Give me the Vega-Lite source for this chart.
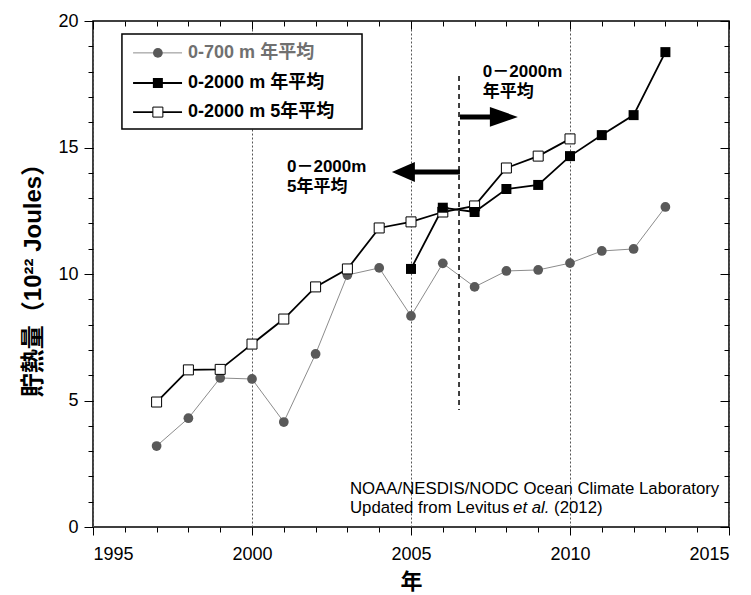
{
  "$schema": "https://vega.github.io/schema/vega-lite/v6.json",
  "width": 636,
  "height": 506,
  "autosize": "none",
  "padding": {"left": 93, "top": 21, "right": 22, "bottom": 68},
  "background": "white",
  "config": {
    "view": {"stroke": "black", "strokeWidth": 1.5},
    "font": "Liberation Sans",
    "axis": {"domain": false, "labelFont": "Liberation Sans", "labelFontSize": 18, "labelColor": "black", "tickColor": "black", "tickWidth": 1, "grid": false}
  },
  "datasets": {
    "one": [{}],
    "s700": [
      {"year": 1997, "v": 3.2}, {"year": 1998, "v": 4.3}, {"year": 1999, "v": 5.89}, {"year": 2000, "v": 5.85},
      {"year": 2001, "v": 4.15}, {"year": 2002, "v": 6.84}, {"year": 2003, "v": 9.96}, {"year": 2004, "v": 10.24},
      {"year": 2005, "v": 8.34}, {"year": 2006, "v": 10.42}, {"year": 2007, "v": 9.49}, {"year": 2008, "v": 10.12},
      {"year": 2009, "v": 10.16}, {"year": 2010, "v": 10.43}, {"year": 2011, "v": 10.91}, {"year": 2012, "v": 10.99},
      {"year": 2013, "v": 12.65}
    ],
    "a2000": [
      {"year": 2005, "v": 10.2}, {"year": 2006, "v": 12.62}, {"year": 2007, "v": 12.45}, {"year": 2008, "v": 13.36},
      {"year": 2009, "v": 13.52}, {"year": 2010, "v": 14.66}, {"year": 2011, "v": 15.49}, {"year": 2012, "v": 16.28},
      {"year": 2013, "v": 18.77}
    ],
    "f2000": [
      {"year": 1997, "v": 4.94}, {"year": 1998, "v": 6.21}, {"year": 1999, "v": 6.23}, {"year": 2000, "v": 7.23},
      {"year": 2001, "v": 8.22}, {"year": 2002, "v": 9.49}, {"year": 2003, "v": 10.2}, {"year": 2004, "v": 11.82},
      {"year": 2005, "v": 12.06}, {"year": 2006, "v": 12.45}, {"year": 2007, "v": 12.69}, {"year": 2008, "v": 14.19},
      {"year": 2009, "v": 14.66}, {"year": 2010, "v": 15.34}
    ]
  },
  "resolve": {"scale": {"x": "shared", "y": "shared"}, "axis": {"x": "independent", "y": "independent"}},
  "layer": [
    {
      "data": {"name": "s700"},
      "mark": {"type": "line", "stroke": "#8c8c8c", "strokeWidth": 1},
      "encoding": {
        "x": {"field": "year", "type": "quantitative", "scale": {"domain": [1995, 2015], "nice": false, "zero": false},
          "axis": {"orient": "bottom", "values": [1995, 2000, 2005, 2010, 2015], "format": "d", "tickSize": 8, "labelPadding": 10,
            "grid": true, "gridColor": "#555555", "gridDash": [2, 2], "gridWidth": 1,
            "title": "年", "titleFont": "Noto Sans CJK JP", "titleFontSize": 22, "titleFontWeight": "bold", "titleColor": "black", "titlePadding": 8}},
        "y": {"field": "v", "type": "quantitative", "scale": {"domain": [0, 20], "nice": false, "zero": false},
          "axis": {"orient": "left", "values": [0, 5, 10, 15, 20], "tickSize": 9, "labelPadding": 6,
            "title": "貯熱量（10²² Joules）", "titleFont": "Liberation Sans, Noto Sans CJK JP", "titleFontSize": 24, "titleFontWeight": "bold", "titleColor": "black", "titlePadding": 12}}
      }
    },
    {
      "data": {"name": "s700"},
      "mark": {"type": "point", "shape": "circle", "filled": true, "fill": "#595959", "stroke": null, "size": 95, "opacity": 1},
      "encoding": {
        "x": {"field": "year", "type": "quantitative", "scale": {"domain": [1995, 2015], "nice": false, "zero": false},
          "axis": {"orient": "bottom", "values": [1995,1996,1997,1998,1999,2000,2001,2002,2003,2004,2005,2006,2007,2008,2009,2010,2011,2012,2013,2014,2015], "tickSize": 5, "labels": false, "title": null}},
        "y": {"field": "v", "type": "quantitative", "scale": {"domain": [0, 20], "nice": false, "zero": false},
          "axis": {"orient": "left", "values": [0,1,2,3,4,5,6,7,8,9,10,11,12,13,14,15,16,17,18,19,20], "tickSize": 5, "labels": false, "title": null}}
      }
    },
    {
      "data": {"name": "f2000"},
      "mark": {"type": "line", "stroke": "black", "strokeWidth": 1.8},
      "encoding": {
        "x": {"field": "year", "type": "quantitative", "scale": {"domain": [1995, 2015], "nice": false, "zero": false},
          "axis": {"orient": "top", "values": [1995,1996,1997,1998,1999,2000,2001,2002,2003,2004,2005,2006,2007,2008,2009,2010,2011,2012,2013,2014,2015], "tickSize": -5, "labels": false, "title": null}},
        "y": {"field": "v", "type": "quantitative", "scale": {"domain": [0, 20], "nice": false, "zero": false},
          "axis": {"orient": "right", "values": [0,1,2,3,4,5,6,7,8,9,10,11,12,13,14,15,16,17,18,19,20], "tickSize": -5, "labels": false, "title": null}}
      }
    },
    {
      "data": {"name": "a2000"},
      "mark": {"type": "line", "stroke": "black", "strokeWidth": 1.8},
      "encoding": {
        "x": {"field": "year", "type": "quantitative", "scale": {"domain": [1995, 2015], "nice": false, "zero": false},
          "axis": {"orient": "top", "values": [1995, 2000, 2005, 2010, 2015], "tickSize": -8, "labels": false, "title": null}},
        "y": {"field": "v", "type": "quantitative", "scale": {"domain": [0, 20], "nice": false, "zero": false},
          "axis": {"orient": "right", "values": [0, 5, 10, 15, 20], "tickSize": -9, "labels": false, "title": null}}
      }
    },
    {
      "data": {"name": "f2000"},
      "mark": {"type": "point", "shape": "square", "filled": true, "fill": "white", "stroke": "black", "strokeWidth": 1, "size": 100, "opacity": 1},
      "encoding": {
        "x": {"field": "year", "type": "quantitative", "scale": {"domain": [1995, 2015], "nice": false, "zero": false}, "axis": null},
        "y": {"field": "v", "type": "quantitative", "scale": {"domain": [0, 20], "nice": false, "zero": false}, "axis": null}
      }
    },
    {
      "data": {"name": "a2000"},
      "mark": {"type": "point", "shape": "square", "filled": true, "fill": "black", "stroke": null, "size": 100, "opacity": 1},
      "encoding": {
        "x": {"field": "year", "type": "quantitative", "scale": {"domain": [1995, 2015], "nice": false, "zero": false}, "axis": null},
        "y": {"field": "v", "type": "quantitative", "scale": {"domain": [0, 20], "nice": false, "zero": false}, "axis": null}
      }
    },
    {
      "data": {"name": "one"},
      "mark": {"type": "rect", "fill": "white", "stroke": "black", "strokeWidth": 1.5},
      "encoding": {
        "x": {"datum": 1995.91, "type": "quantitative", "scale": {"domain": [1995, 2015], "nice": false, "zero": false}, "axis": null},
        "x2": {"datum": 2003.46},
        "y": {"datum": 19.49, "type": "quantitative", "scale": {"domain": [0, 20], "nice": false, "zero": false}, "axis": null},
        "y2": {"datum": 15.73}
      }
    },
    {
      "data": {"name": "one"},
      "mark": {"type": "rule", "stroke": "#8c8c8c", "strokeWidth": 1},
      "encoding": {
        "x": {"datum": 1996.26, "type": "quantitative", "scale": {"domain": [1995, 2015], "nice": false, "zero": false}, "axis": null},
        "x2": {"datum": 1997.8},
        "y": {"datum": 18.74, "type": "quantitative", "scale": {"domain": [0, 20], "nice": false, "zero": false}, "axis": null}
      }
    },
    {
      "data": {"name": "one"},
      "mark": {"type": "rule", "stroke": "black", "strokeWidth": 1.8},
      "encoding": {
        "x": {"datum": 1996.26, "type": "quantitative", "scale": {"domain": [1995, 2015], "nice": false, "zero": false}, "axis": null},
        "x2": {"datum": 1997.8},
        "y": {"datum": 17.55, "type": "quantitative", "scale": {"domain": [0, 20], "nice": false, "zero": false}, "axis": null}
      }
    },
    {
      "data": {"name": "one"},
      "mark": {"type": "rule", "stroke": "black", "strokeWidth": 1.8},
      "encoding": {
        "x": {"datum": 1996.26, "type": "quantitative", "scale": {"domain": [1995, 2015], "nice": false, "zero": false}, "axis": null},
        "x2": {"datum": 1997.8},
        "y": {"datum": 16.4, "type": "quantitative", "scale": {"domain": [0, 20], "nice": false, "zero": false}, "axis": null}
      }
    },
    {
      "data": {"name": "one"},
      "mark": {"type": "point", "shape": "circle", "filled": true, "fill": "#595959", "stroke": null, "size": 95, "opacity": 1},
      "encoding": {
        "x": {"datum": 1997.04, "type": "quantitative", "scale": {"domain": [1995, 2015], "nice": false, "zero": false}, "axis": null},
        "y": {"datum": 18.74, "type": "quantitative", "scale": {"domain": [0, 20], "nice": false, "zero": false}, "axis": null}
      }
    },
    {
      "data": {"name": "one"},
      "mark": {"type": "point", "shape": "square", "filled": true, "fill": "black", "stroke": null, "size": 100, "opacity": 1},
      "encoding": {
        "x": {"datum": 1997.04, "type": "quantitative", "scale": {"domain": [1995, 2015], "nice": false, "zero": false}, "axis": null},
        "y": {"datum": 17.55, "type": "quantitative", "scale": {"domain": [0, 20], "nice": false, "zero": false}, "axis": null}
      }
    },
    {
      "data": {"name": "one"},
      "mark": {"type": "point", "shape": "square", "filled": true, "fill": "white", "stroke": "black", "strokeWidth": 1, "size": 100, "opacity": 1},
      "encoding": {
        "x": {"datum": 1997.04, "type": "quantitative", "scale": {"domain": [1995, 2015], "nice": false, "zero": false}, "axis": null},
        "y": {"datum": 16.4, "type": "quantitative", "scale": {"domain": [0, 20], "nice": false, "zero": false}, "axis": null}
      }
    },
    {
      "data": {"name": "one"},
      "mark": {"type": "text", "text": "0-700 m  年平均", "font": "Liberation Sans, Noto Sans CJK JP", "fontSize": 18, "fontWeight": "bold", "fill": "#707070", "align": "left", "baseline": "middle"},
      "encoding": {
        "x": {"datum": 1997.99, "type": "quantitative", "scale": {"domain": [1995, 2015], "nice": false, "zero": false}, "axis": null},
        "y": {"datum": 18.74, "type": "quantitative", "scale": {"domain": [0, 20], "nice": false, "zero": false}, "axis": null}
      }
    },
    {
      "data": {"name": "one"},
      "mark": {"type": "text", "text": "0-2000 m  年平均", "font": "Liberation Sans, Noto Sans CJK JP", "fontSize": 18, "fontWeight": "bold", "fill": "black", "align": "left", "baseline": "middle"},
      "encoding": {
        "x": {"datum": 1997.99, "type": "quantitative", "scale": {"domain": [1995, 2015], "nice": false, "zero": false}, "axis": null},
        "y": {"datum": 17.55, "type": "quantitative", "scale": {"domain": [0, 20], "nice": false, "zero": false}, "axis": null}
      }
    },
    {
      "data": {"name": "one"},
      "mark": {"type": "text", "text": "0-2000 m  5年平均", "font": "Liberation Sans, Noto Sans CJK JP", "fontSize": 18, "fontWeight": "bold", "fill": "black", "align": "left", "baseline": "middle"},
      "encoding": {
        "x": {"datum": 1997.99, "type": "quantitative", "scale": {"domain": [1995, 2015], "nice": false, "zero": false}, "axis": null},
        "y": {"datum": 16.4, "type": "quantitative", "scale": {"domain": [0, 20], "nice": false, "zero": false}, "axis": null}
      }
    },
    {
      "data": {"name": "one"},
      "mark": {"type": "rule", "stroke": "black", "strokeWidth": 1.5, "strokeDash": [5, 4]},
      "encoding": {
        "x": {"datum": 2006.51, "type": "quantitative", "scale": {"domain": [1995, 2015], "nice": false, "zero": false}, "axis": null},
        "y": {"datum": 17.83, "type": "quantitative", "scale": {"domain": [0, 20], "nice": false, "zero": false}, "axis": null},
        "y2": {"datum": 4.62}
      }
    },
    {
      "data": {"name": "one"},
      "mark": {"type": "rule", "stroke": "black", "strokeWidth": 5},
      "encoding": {
        "x": {"datum": 2006.54, "type": "quantitative", "scale": {"domain": [1995, 2015], "nice": false, "zero": false}, "axis": null},
        "x2": {"datum": 2007.6},
        "y": {"datum": 16.21, "type": "quantitative", "scale": {"domain": [0, 20], "nice": false, "zero": false}, "axis": null}
      }
    },
    {
      "data": {"name": "one"},
      "mark": {"type": "point", "shape": "M-1,-0.71L1,0L-1,0.71Z", "filled": true, "fill": "black", "stroke": null, "size": 784, "opacity": 1},
      "encoding": {
        "x": {"datum": 2007.92, "type": "quantitative", "scale": {"domain": [1995, 2015], "nice": false, "zero": false}, "axis": null},
        "y": {"datum": 16.21, "type": "quantitative", "scale": {"domain": [0, 20], "nice": false, "zero": false}, "axis": null}
      }
    },
    {
      "data": {"name": "one"},
      "mark": {"type": "rule", "stroke": "black", "strokeWidth": 5},
      "encoding": {
        "x": {"datum": 2005.0, "type": "quantitative", "scale": {"domain": [1995, 2015], "nice": false, "zero": false}, "axis": null},
        "x2": {"datum": 2006.54},
        "y": {"datum": 14.03, "type": "quantitative", "scale": {"domain": [0, 20], "nice": false, "zero": false}, "axis": null}
      }
    },
    {
      "data": {"name": "one"},
      "mark": {"type": "point", "shape": "M1,-0.87L-1,0L1,0.87Z", "filled": true, "fill": "black", "stroke": null, "size": 529, "opacity": 1},
      "encoding": {
        "x": {"datum": 2004.76, "type": "quantitative", "scale": {"domain": [1995, 2015], "nice": false, "zero": false}, "axis": null},
        "y": {"datum": 14.03, "type": "quantitative", "scale": {"domain": [0, 20], "nice": false, "zero": false}, "axis": null}
      }
    },
    {
      "data": {"name": "one"},
      "mark": {"type": "text", "text": ["0－2000m", "年平均"], "lineHeight": 20, "font": "Liberation Sans, Noto Sans CJK JP", "fontSize": 17, "fontWeight": "bold", "fill": "black", "align": "left", "baseline": "alphabetic"},
      "encoding": {
        "x": {"datum": 2007.26, "type": "quantitative", "scale": {"domain": [1995, 2015], "nice": false, "zero": false}, "axis": null},
        "y": {"datum": 17.78, "type": "quantitative", "scale": {"domain": [0, 20], "nice": false, "zero": false}, "axis": null}
      }
    },
    {
      "data": {"name": "one"},
      "mark": {"type": "text", "text": ["0－2000m", "5年平均"], "lineHeight": 20, "font": "Liberation Sans, Noto Sans CJK JP", "fontSize": 17, "fontWeight": "bold", "fill": "black", "align": "left", "baseline": "alphabetic"},
      "encoding": {
        "x": {"datum": 2001.1, "type": "quantitative", "scale": {"domain": [1995, 2015], "nice": false, "zero": false}, "axis": null},
        "y": {"datum": 14.03, "type": "quantitative", "scale": {"domain": [0, 20], "nice": false, "zero": false}, "axis": null}
      }
    },
    {
      "data": {"name": "one"},
      "mark": {"type": "text", "text": "NOAA/NESDIS/NODC Ocean Climate Laboratory", "font": "Liberation Sans", "fontSize": 16.8, "fill": "black", "align": "left", "baseline": "alphabetic"},
      "encoding": {
        "x": {"datum": 2003.08, "type": "quantitative", "scale": {"domain": [1995, 2015], "nice": false, "zero": false}, "axis": null},
        "y": {"datum": 1.3, "type": "quantitative", "scale": {"domain": [0, 20], "nice": false, "zero": false}, "axis": null}
      }
    },
    {
      "data": {"name": "one"},
      "mark": {"type": "text", "text": "Updated from Levitus", "font": "Liberation Sans", "fontSize": 16.8, "fill": "black", "align": "left", "baseline": "alphabetic"},
      "encoding": {
        "x": {"datum": 2003.08, "type": "quantitative", "scale": {"domain": [1995, 2015], "nice": false, "zero": false}, "axis": null},
        "y": {"datum": 0.55, "type": "quantitative", "scale": {"domain": [0, 20], "nice": false, "zero": false}, "axis": null}
      }
    },
    {
      "data": {"name": "one"},
      "mark": {"type": "text", "text": "et al.", "font": "Liberation Sans", "fontSize": 16.8, "fontStyle": "italic", "fill": "black", "align": "left", "baseline": "alphabetic"},
      "encoding": {
        "x": {"datum": 2008.21, "type": "quantitative", "scale": {"domain": [1995, 2015], "nice": false, "zero": false}, "axis": null},
        "y": {"datum": 0.55, "type": "quantitative", "scale": {"domain": [0, 20], "nice": false, "zero": false}, "axis": null}
      }
    },
    {
      "data": {"name": "one"},
      "mark": {"type": "text", "text": "(2012)", "font": "Liberation Sans", "fontSize": 16.8, "fill": "black", "align": "left", "baseline": "alphabetic"},
      "encoding": {
        "x": {"datum": 2009.5, "type": "quantitative", "scale": {"domain": [1995, 2015], "nice": false, "zero": false}, "axis": null},
        "y": {"datum": 0.55, "type": "quantitative", "scale": {"domain": [0, 20], "nice": false, "zero": false}, "axis": null}
      }
    }
  ]
}
